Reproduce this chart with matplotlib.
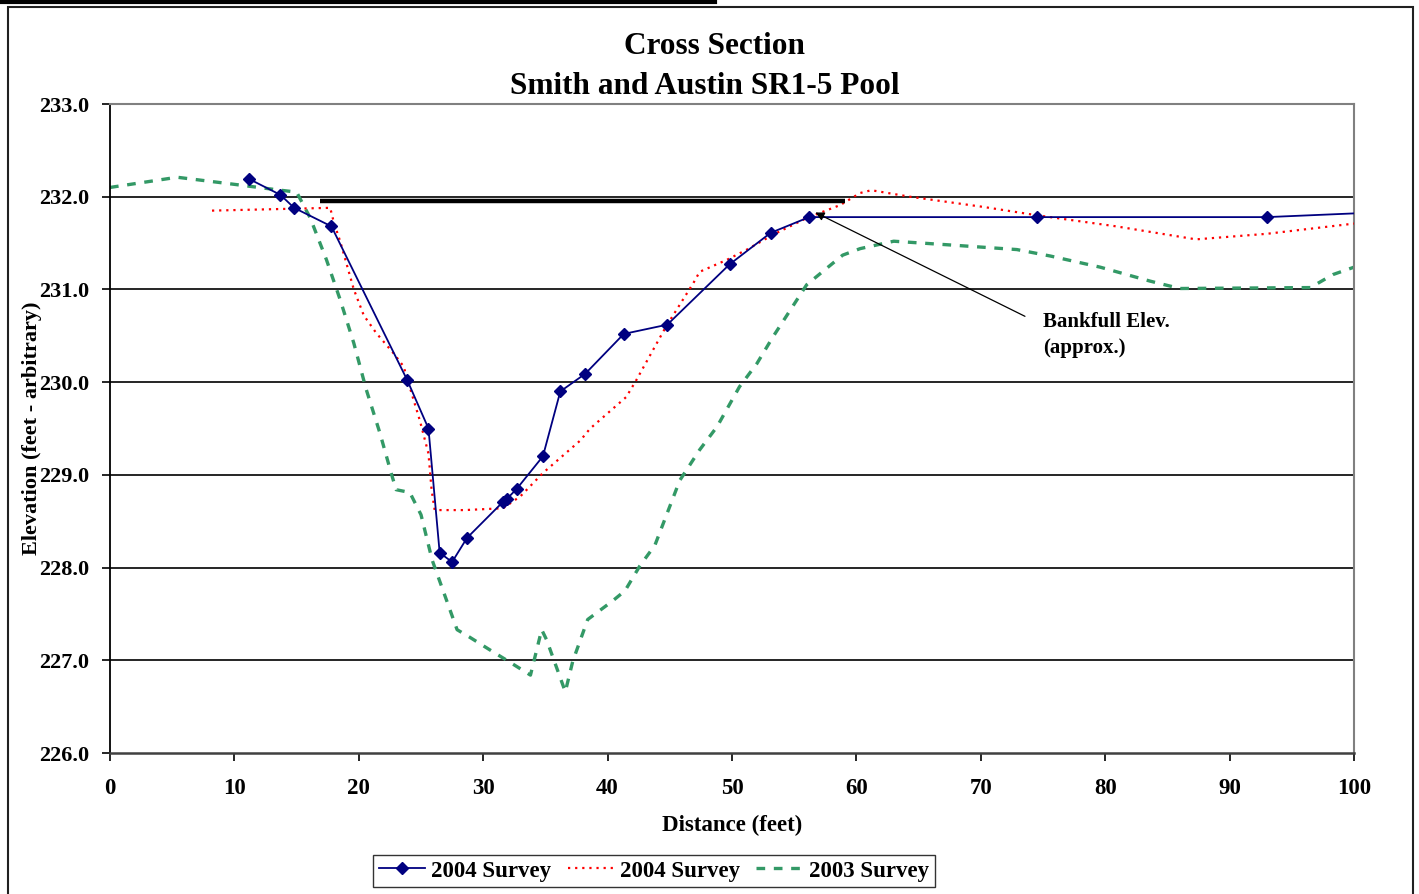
import matplotlib
matplotlib.use("Agg")
import matplotlib.pyplot as plt
from matplotlib.patches import Rectangle
from matplotlib.lines import Line2D

# ---------------- data ----------------
blue_x = [11.2, 13.7, 14.8, 17.8, 23.9, 25.6, 26.5, 27.5, 28.7, 31.6, 31.9, 32.7,
          34.8, 36.2, 38.2, 41.3, 44.8, 49.8, 53.1, 56.2, 74.5, 93.0, 100.0]
blue_y = [232.19, 232.02, 231.88, 231.68, 230.02, 229.50, 228.16, 228.06, 228.32,
          228.71, 228.74, 228.85, 229.20, 229.90, 230.09, 230.52, 230.62, 231.27,
          231.61, 231.78, 231.78, 231.78, 231.82]

red_x = [8.2, 17.7, 18.0, 18.5, 19.6, 20.4, 21.4, 22.8, 23.6, 24.4, 24.9, 25.6,
         25.85, 26.1, 28.5, 31.6, 33.0, 34.8, 37.8, 38.6, 41.5, 42.3, 44.7, 46.9,
         47.4, 49.6, 51.2, 53.3, 56.0, 58.7, 60.3, 61.2, 64.3, 70.2, 74.5, 80.9,
         87.3, 93.0, 100.0]
red_y = [231.85, 231.88, 231.72, 231.52, 231.00, 230.72, 230.53, 230.31, 230.17,
         229.81, 229.59, 229.23, 228.84, 228.62, 228.62, 228.64, 228.77, 229.02,
         229.37, 229.50, 229.84, 230.02, 230.60, 231.07, 231.19, 231.32, 231.43,
         231.59, 231.77, 231.91, 232.04, 232.07, 232.00, 231.89, 231.80, 231.68,
         231.54, 231.60, 231.71]

green_x = [0.0, 5.4, 10.2, 13.7, 15.0, 16.1, 17.4, 18.5, 19.6, 20.6, 21.7, 22.6,
           23.0, 24.1, 25.0, 25.9, 27.1, 27.9, 28.9, 30.8, 31.9, 33.8, 34.7, 35.1,
           36.6, 37.2, 38.4, 39.5, 40.4, 41.4, 42.6, 43.8, 45.8, 47.4, 48.8, 50.6,
           52.0, 53.3, 54.7, 56.0, 57.9, 58.9, 60.3, 63.0, 67.5, 72.9, 75.6, 79.6,
           83.6, 86.0, 96.5, 98.3, 100.0]
green_y = [232.10, 232.21, 232.13, 232.07, 232.05, 231.77, 231.32, 230.89, 230.42,
           229.92, 229.45, 229.02, 228.84, 228.81, 228.57, 228.08, 227.63, 227.33,
           227.25, 227.09, 227.00, 226.84, 227.33, 227.22, 226.66, 226.99, 227.44,
           227.55, 227.64, 227.75, 228.02, 228.24, 228.94, 229.27, 229.52, 229.95,
           230.20, 230.49, 230.78, 231.05, 231.26, 231.37, 231.44, 231.52, 231.48,
           231.43, 231.36, 231.24, 231.09, 231.01, 231.02, 231.16, 231.24]

bankfull_x = [16.9, 59.1]
bankfull_y = [231.95, 231.95]
arrow_head = (56.7, 231.83)
arrow_tail = (73.55, 230.71)

x_ticks = [0, 10, 20, 30, 40, 50, 60, 70, 80, 90, 100]
y_ticks = [226.0, 227.0, 228.0, 229.0, 230.0, 231.0, 232.0, 233.0]

series_labels = ["2004 Survey", "2004 Survey", "2003 Survey"]
title_lines = ["Cross Section", "Smith and Austin SR1-5 Pool"]

# ---------------- style ----------------
plt.rcParams['font.family'] = ['Liberation Serif', 'DejaVu Serif']
plt.rcParams['font.weight'] = 'bold'

W, H = 1419, 894
fig = plt.figure(figsize=(W / 100, H / 100), dpi=100)

def fx(px):
    return px / W

def fy(py):
    return 1 - py / H

ax = fig.add_axes([fx(110), fy(753), fx(1354) - fx(110), fy(104) - fy(753)])
ax.set_xlim(0, 100)
ax.set_ylim(226, 233)

for yv in y_ticks[1:-1]:
    ax.axhline(yv, color='black', lw=1.2, zorder=1)

ln_g, = ax.plot(green_x, green_y, color='#339966', lw=2.4, dashes=(2.6, 2.6),
                dash_capstyle='butt', zorder=2, label=series_labels[2])
ln_r, = ax.plot(red_x, red_y, color='#FF0000', lw=1.6, dashes=(1.0, 2.2),
                zorder=3, label=series_labels[1])
ln_b, = ax.plot(blue_x, blue_y, color='#000080', lw=1.3, marker='D', ms=6.3,
                markevery=list(range(len(blue_x) - 1)), zorder=4,
                label=series_labels[0])

ax.plot(bankfull_x, bankfull_y, color='black', lw=3.2, solid_capstyle='butt', zorder=5)

ax.annotate('', xy=arrow_head, xytext=arrow_tail,
            arrowprops=dict(arrowstyle='-|>', color='black', lw=0.9,
                            mutation_scale=13, shrinkA=0, shrinkB=0), zorder=6)
ax.text(75.0, 230.76, "Bankfull Elev.\n(approx.)", fontsize=15, fontweight='bold',
        ha='left', va='top', linespacing=1.4)

ax.set_xticks(x_ticks)
ax.set_xticklabels([str(v) for v in x_ticks])
ax.set_yticks(y_ticks)
ax.set_yticklabels(["%.1f" % v for v in y_ticks])
ax.tick_params(axis='both', direction='out', length=6, width=1.2, colors='black',
               labelsize=16)
ax.tick_params(axis='x', pad=12, labelsize=16.5)
ax.tick_params(axis='y', pad=9)

for s in ['top', 'right']:
    ax.spines[s].set_color('#808080')
    ax.spines[s].set_linewidth(1.5)
ax.spines['left'].set_color('black')
ax.spines['left'].set_linewidth(1.3)
ax.spines['bottom'].set_color('#404040')
ax.spines['bottom'].set_linewidth(1.8)

fig.text(fx(732), fy(825), "Distance (feet)", ha='center', va='center',
         fontsize=16.5, fontweight='bold')
fig.text(fx(32), fy(428), "Elevation (feet - arbitrary)", ha='center', va='center',
         rotation=90, fontsize=16, fontweight='bold')
fig.text(fx(714), fy(46), title_lines[0], ha='center', va='center',
         fontsize=22.5, fontweight='bold')
fig.text(fx(705), fy(86), title_lines[1], ha='center', va='center',
         fontsize=22.5, fontweight='bold')

# figure decorations: top bar and frame
fig.add_artist(Line2D([0, fx(715)], [fy(1.5), fy(1.5)], color='black', lw=3,
                      transform=fig.transFigure))
fig.add_artist(Rectangle((fx(8), -0.05), fx(1413) - fx(8), fy(7) + 0.05,
                         transform=fig.transFigure, fill=False,
                         edgecolor='#202020', lw=1.5))

leg = fig.legend(handles=[ln_b, ln_r, ln_g], labels=series_labels,
                 loc='center', bbox_to_anchor=(fx(654), fy(871)), ncol=3,
                 fontsize=16.5, frameon=True, fancybox=False, edgecolor='black',
                 handlelength=2.0, handletextpad=0.3, columnspacing=0.7,
                 borderpad=0.25, borderaxespad=0)
leg.get_frame().set_linewidth(1.0)

fig.savefig("out.png", dpi=100, facecolor='white')
